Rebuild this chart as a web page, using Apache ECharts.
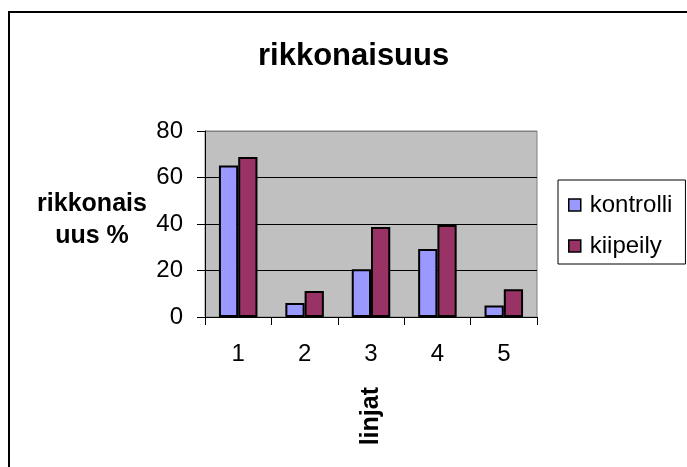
<!DOCTYPE html>
<html>
<head>
<meta charset="utf-8">
<script src="https://cdn.jsdelivr.net/npm/echarts@6/dist/echarts.min.js"></script>
<style>
html,body{margin:0;padding:0;background:#fff;}
#chart{width:687px;height:467px;}
</style>
</head>
<body>
<div id="chart"></div>
<script>
var categories = ['1', '2', '3', '4', '5'];
var kontrolli = [65.2, 6.0, 20.5, 29.2, 5.0];
var kiipeily = [68.8, 11.2, 38.7, 39.6, 11.9];
var seriesNames = ['kontrolli', 'kiipeily'];
var chartTitle = 'rikkonaisuus';
var yName = 'rikkonais\nuus %';
var xName = 'linjat';

var chart = echarts.init(document.getElementById('chart'), null, {renderer: 'canvas'});
var font = 'Arial, "Liberation Sans", sans-serif';
chart.setOption({
  animation: false,
  backgroundColor: '#fff',
  title: {
    text: chartTitle,
    left: 253, top: 36,
    textStyle: {fontFamily: font, fontSize: 31, fontWeight: 'bold', color: '#000'}
  },
  legend: {
    orient: 'vertical',
    left: 558, top: 180,
    padding: [13, 13, 6, 10],
    itemGap: 17,
    itemWidth: 12, itemHeight: 12,
    borderColor: '#000', borderWidth: 1,
    icon: 'rect',
    textStyle: {fontFamily: font, fontSize: 24, color: '#000', padding: [0, 0, 0, 4]},
    data: [
      {name: seriesNames[0], itemStyle: {borderColor: '#000', borderWidth: 1.5}},
      {name: seriesNames[1], itemStyle: {borderColor: '#000', borderWidth: 1.5}}
    ]
  },
  grid: {
    left: 205, right: 150, top: 131, bottom: 150,
    show: true, backgroundColor: '#c0c0c0', borderColor: '#808080', borderWidth: 1
  },
  xAxis: {
    type: 'category',
    data: categories,
    name: xName,
    nameLocation: 'middle',
    nameRotate: 90,
    nameGap: 70,
    nameTextStyle: {fontFamily: font, fontSize: 25, fontWeight: 'bold', color: '#000'},
    axisLine: {lineStyle: {color: '#000', width: 1}},
    axisTick: {show: true, length: 8, lineStyle: {color: '#000'}},
    axisLabel: {fontFamily: font, fontSize: 24, color: '#000', margin: 25},
    splitLine: {show: false}
  },
  yAxis: {
    type: 'value',
    min: 0, max: 80, interval: 20,
    axisLine: {show: true, lineStyle: {color: '#000', width: 1}},
    axisTick: {show: true, length: 8, lineStyle: {color: '#000'}},
    axisLabel: {fontFamily: font, fontSize: 24, color: '#000', margin: 22},
    splitLine: {show: true, lineStyle: {color: ['#000', '#000', '#000', '#000', '#808080'], width: 1}}
  },
  graphic: [
    {
      type: 'rect',
      shape: {x: 9, y: 12, width: 700, height: 500},
      style: {fill: 'none', stroke: '#000', lineWidth: 2},
      silent: true
    },
    {
      type: 'text',
      x: 92, y: 188,
      style: {
        text: yName,
        font: 'bold 25px ' + font,
        fill: '#000',
        textAlign: 'center',
        textVerticalAlign: 'top',
        lineHeight: 32
      }
    }
  ],
  series: [
    {
      name: seriesNames[0], type: 'bar', data: kontrolli,
      barGap: '0%', barCategoryGap: '42%',
      itemStyle: {color: '#9999ff', borderColor: '#000', borderWidth: 2}
    },
    {
      name: seriesNames[1], type: 'bar', data: kiipeily,
      itemStyle: {color: '#993366', borderColor: '#000', borderWidth: 2}
    }
  ]
});
</script>
</body>
</html>
